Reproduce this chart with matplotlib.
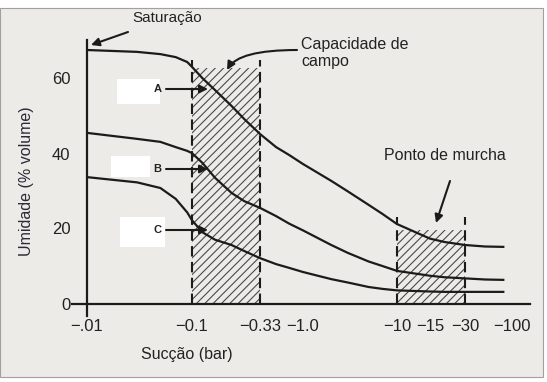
import numpy as np
import matplotlib
matplotlib.use("Agg")
import matplotlib.pyplot as plt
from matplotlib.patches import Rectangle, FancyArrowPatch

# ---------------- data ----------------
suction_ticks = [0.01, 0.1, 0.33, 1.0, 10, 15, 30, 100]
suction_tick_labels = ["\u2212.01", "\u22120.1", "\u22120.33", "\u22121.0",
                       "\u221210", "\u221215", "\u221230", "\u2212100"]
moisture_ticks = [0, 20, 40, 60]

suction = [0.01, 0.03, 0.05, 0.07, 0.09, 0.1, 0.12, 0.15, 0.2, 0.25, 0.33, 0.5,
           0.7, 1, 2, 3, 5, 7, 10, 15, 20, 30, 50, 80]
soil_a = [67.6, 67.1, 66.5, 65.7, 64.4, 63.1, 60.1, 56.9, 52.7, 49.2, 45.2, 41.7,
          39.6, 37.2, 32.7, 29.9, 26.3, 23.9, 21.2, 17.3, 16.4, 15.6, 15.2, 15.1]
soil_b = [45.5, 43.9, 43.1, 41.7, 40.7, 40.1, 37.5, 33.5, 29.5, 27.3, 25.5, 23.3,
          21.3, 19.5, 15.6, 13.5, 11.2, 10.0, 8.7, 7.4, 7.0, 6.7, 6.4, 6.3]
soil_c = [33.7, 32.3, 30.8, 27.9, 24.3, 22.2, 19.0, 17.0, 15.6, 14.0, 12.1, 10.5,
          9.5, 8.4, 6.5, 5.6, 4.4, 3.9, 3.5, 3.2, 3.1, 3.1, 3.1, 3.1]

field_capacity = (0.1, 0.33)
field_capacity_top = 62.7
field_capacity_dash_top = 65.0
wilting_point = (10, 30)
wilting_point_top = 19.7
wilting_point_dash_top = 23.0

# --------------- layout / style ---------------
W, H = 547, 382
DPI = 100
scale_pos = [0.0, 1.0, 1.648, 2.057, 2.952, 3.267, 3.6, 4.048]  # printed axis spacing
log_ticks = np.log10(suction_ticks)

def fwd(x):
    x = np.asarray(x, dtype=float)
    return np.interp(np.log10(np.maximum(x, 1e-9)), log_ticks, scale_pos)

def inv(p):
    return 10 ** np.interp(np.asarray(p, dtype=float), scale_pos, log_ticks)

dark = "#1b1b1b"
txt = "#222222"
plt.rcParams["font.family"] = ["Liberation Sans", "DejaVu Sans"]
plt.rcParams["hatch.linewidth"] = 0.8

fig = plt.figure(figsize=(W / DPI, H / DPI), dpi=DPI, facecolor="white")

def F(px, py):
    return (px / W, 1 - py / H)

# scanned page panel
fig.add_artist(Rectangle((0 / W, 5 / H), 543 / W, 369 / H, transform=fig.transFigure,
                         facecolor="#ecebe7", edgecolor="#a0a0a0", lw=0.8, zorder=0))

ax_left, ax_right, ax_bottom, ax_top = 87, 512, 303.5, 41
ax = fig.add_axes([ax_left / W, 1 - ax_bottom / H, (ax_right - ax_left) / W,
                   (ax_bottom - ax_top) / H])
ax.set_facecolor("none")
ax.set_xscale("function", functions=(fwd, inv))
ax.set_xlim(0.01, 100)
ax.set_ylim(0, 70)
for s in ax.spines.values():
    s.set_visible(False)

ax.set_xticks(suction_ticks)
ax.set_xticklabels(suction_tick_labels)
ax.set_yticks(moisture_ticks)
ax.xaxis.set_minor_locator(matplotlib.ticker.NullLocator())
ax.tick_params(axis="x", length=0, pad=11, labelsize=12, labelcolor=txt)
ax.tick_params(axis="y", length=0, pad=12, labelsize=12, labelcolor=txt)

# axis lines (extended past origin like the original)
ax.plot([-0.035, 1.042], [0, 0], transform=ax.get_yaxis_transform(), color=dark,
        lw=1.6, clip_on=False, zorder=5)
ax.plot([0.01, 0.01], [-3.2, 70.3], color=dark, lw=1.6, clip_on=False, zorder=5)

# hatched regions
for (x0, x1), top, dtop in [(field_capacity, field_capacity_top, field_capacity_dash_top),
                            (wilting_point, wilting_point_top, wilting_point_dash_top)]:
    ax.fill_between([x0, x1], 0, top, facecolor="none", edgecolor="#4a4a4a",
                    hatch="////", linewidth=0, zorder=2)
    for xv in (x0, x1):
        ax.plot([xv, xv], [0, dtop], color=dark, lw=1.5, ls=(0, (5, 2.6)), zorder=3)

# curves
for ys in (soil_a, soil_b, soil_c):
    ax.plot(suction, ys, color=dark, lw=1.6, zorder=4, solid_joinstyle="round")

# axis titles
fig.text(*F(187, 355), "Sucção (bar)", ha="center", va="center", fontsize=11.5, color=txt)
fig.text(*F(27, 181), "Umidade (% volume)", ha="center", va="center", rotation=90,
         fontsize=11.5, color="#2b2838")

arrow_kw = dict(arrowstyle="-|>", lw=1.5, color=dark, mutation_scale=12,
                shrinkA=0, shrinkB=0)

def fig_arrow(p_from, p_to, **extra):
    kw = dict(arrow_kw)
    kw.update(extra)
    fig.add_artist(FancyArrowPatch(F(*p_from), F(*p_to), transform=fig.transFigure,
                                   zorder=10, **kw))

# annotations
fig.text(*F(167, 18), "Saturação", ha="center", va="center", fontsize=11, color=txt)
fig_arrow((128, 32), (91, 45))

fig.text(*F(301, 53), "Capacidade de\ncampo", ha="left", va="center", fontsize=11.5,
         color=txt, linespacing=1.1)
fig_arrow((297, 50), (227, 70), connectionstyle="angle3,angleA=0,angleB=60")

fig.text(*F(445, 156), "Ponto de murcha", ha="center", va="center", fontsize=11.5, color=txt)
fig_arrow((450, 181), (436, 223))

# A / B / C labels with masked boxes
for label, (bx0, by0, bx1, by1), ly in [("A", (117, 79, 160, 104), 89),
                                        ("B", (111, 156, 150, 177), 169),
                                        ("C", (120, 217, 165, 247), 230)]:
    fig.add_artist(Rectangle((bx0 / W, 1 - by1 / H), (bx1 - bx0) / W, (by1 - by0) / H,
                             transform=fig.transFigure, facecolor="white",
                             edgecolor="none", zorder=8))
    fig.text(*F(157.5, ly), label, ha="center", va="center", fontsize=8,
             fontweight="bold", color=txt, zorder=9)
    fig_arrow((166, ly), (208, ly))

fig.savefig("out.png", dpi=DPI, facecolor="white")
